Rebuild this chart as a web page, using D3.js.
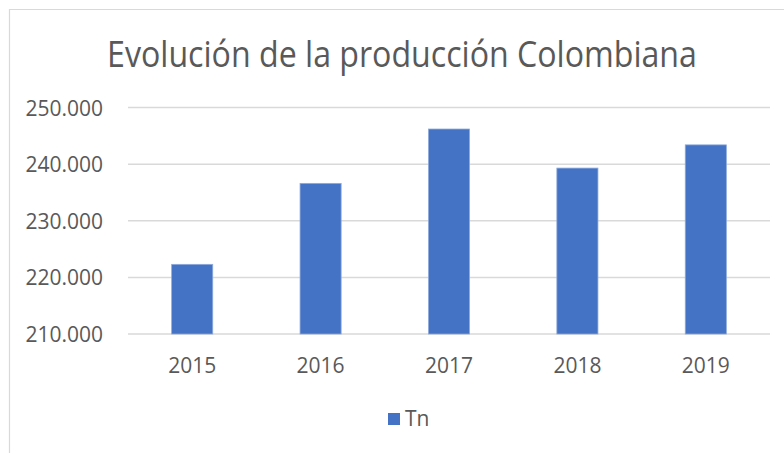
<!DOCTYPE html>
<html><head><meta charset="utf-8">
<script src="https://cdn.jsdelivr.net/npm/d3@7"></script>
<style>body{margin:0;background:#fff}svg{display:block}text{font-family:"Open Sans",sans-serif;fill:#595959}</style>
</head><body>
<script>
const years = ["2015","2016","2017","2018","2019"];
const values = [222300, 236600, 246200, 239300, 243400];
const yTicks = [210000, 220000, 230000, 240000, 250000];
const seriesName = "Tn";
const title = "Evolución de la producción Colombiana";

const W = 784, H = 453;
const svg = d3.select("body").append("svg").attr("width", W).attr("height", H);
svg.append("rect").attr("width", W).attr("height", H).attr("fill", "#fff");
// chart frame
svg.append("path").attr("d", `M9.5,${H} V9.5 H${W}`).attr("fill","none").attr("stroke","#d9d9d9").attr("stroke-width",1.2);

const x = d3.scaleBand().domain(years).range([128, 770]).paddingInner(0.68).paddingOuter(0.34);
const y = d3.scaleLinear().domain([210000, 250000]).range([334, 107.5]);

const fmt = v => d3.format(",")(v).replace(/,/g, ".");

// gridlines
svg.append("g").selectAll("line").data(yTicks).join("line")
  .attr("x1", 128).attr("x2", 770)
  .attr("y1", d => y(d)).attr("y2", d => y(d))
  .attr("stroke", "#d9d9d9").attr("stroke-width", 1.5);

// y labels
const yAxis = d3.axisLeft(y).tickValues(yTicks).tickFormat(fmt).tickSize(0).tickPadding(0);
const ga = svg.append("g").attr("transform", "translate(103,0)").call(yAxis);
ga.select(".domain").remove();
ga.selectAll("text").attr("font-size", 21).attr("font-family", "Open Sans").attr("fill", "#595959").attr("dy", "0.36em");

// bars
svg.append("g").selectAll("rect").data(values).join("rect")
  .attr("x", (d, i) => x(years[i]))
  .attr("width", x.bandwidth())
  .attr("y", d => y(d))
  .attr("height", d => y(210000) - y(d))
  .attr("fill", "#4472c4").attr("stroke", "#8eaadb").attr("stroke-width", 0.8);

// x labels
const xAxis = d3.axisBottom(x).tickSize(0).tickPadding(0);
const gx = svg.append("g").attr("transform", "translate(0,358)").call(xAxis);
gx.select(".domain").remove();
gx.selectAll("text").attr("font-size", 21).attr("font-family", "Open Sans").attr("fill", "#595959").attr("dy", "0.71em");

// title (scaled horizontally to the reference width)
const tg = svg.append("g");
const tt = tg.append("text").attr("x", 0).attr("y", 0).attr("text-anchor", "middle")
  .attr("font-size", 37).text(title);
const natural = tt.node().getComputedTextLength();
const sx = 590 / natural;
tg.attr("transform", `translate(402,67) scale(${sx},1)`);

// legend
svg.append("rect").attr("x", 388).attr("y", 413).attr("width", 12).attr("height", 12).attr("fill", "#4472c4");
svg.append("text").attr("x", 405).attr("y", 426).attr("font-size", 21).text(seriesName);
</script>
</body></html>
